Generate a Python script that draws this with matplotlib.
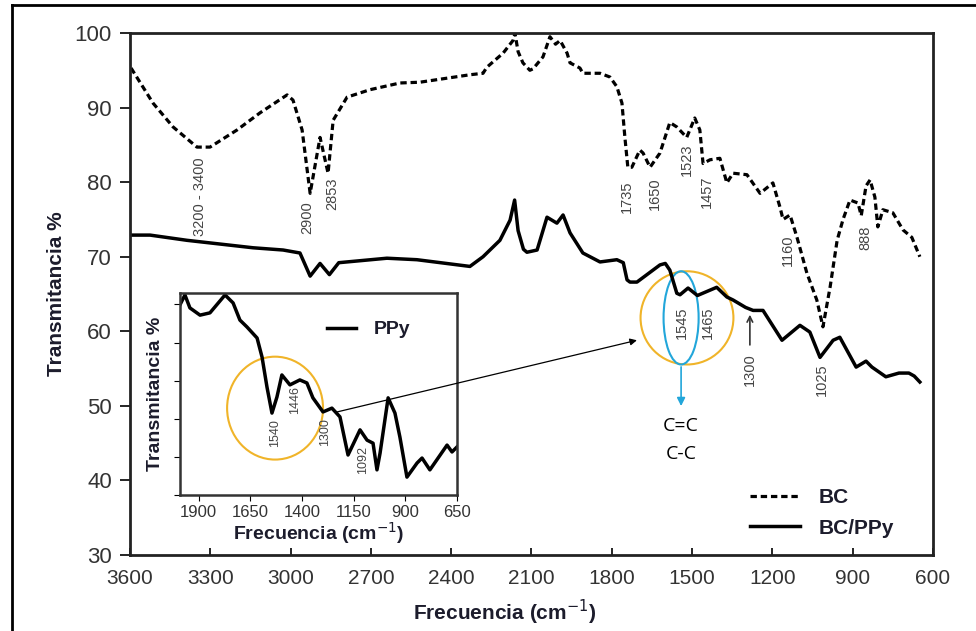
import matplotlib
matplotlib.use("Agg")
from matplotlib import pyplot as plt
from matplotlib.patches import Ellipse, ConnectionPatch
from matplotlib.lines import Line2D

plt.rcParams['font.family'] = ['Liberation Sans', 'DejaVu Sans']

# BC (dashed) spectrum
bc_x = [3596, 3514, 3439, 3350, 3301, 3200, 3114, 3013, 2991, 2957, 2927, 2890,
        2860, 2841, 2789, 2703, 2591, 2517, 2330, 2281, 2267, 2206, 2169, 2162,
        2150, 2132, 2106, 2094, 2057, 2031, 2010, 1993, 1967, 1956, 1919, 1908,
        1844, 1807, 1781, 1762, 1751, 1740, 1725, 1695, 1683, 1657, 1620, 1583,
        1557, 1520, 1490, 1471, 1459, 1433, 1396, 1370, 1347, 1295, 1246, 1198,
        1172, 1160, 1134, 1108, 1071, 1034, 1011, 984, 958, 936, 910, 880, 868,
        850, 835, 817, 806, 787, 750, 712, 679, 649]
bc_y = [95.3, 90.6, 87.4, 84.7, 84.7, 87.0, 89.3, 91.7, 91.0, 87.0, 78.5, 86.0,
        81.2, 88.3, 91.4, 92.4, 93.3, 93.4, 94.4, 94.6, 95.4, 97.3, 99.0, 100.0,
        97.5, 96.0, 95.0, 95.2, 96.8, 99.5, 98.5, 99.0, 97.3, 96.0, 95.3, 94.6,
        94.6, 94.1, 92.8, 90.6, 86.0, 82.0, 82.0, 84.3, 83.9, 82.0, 83.9, 88.0,
        87.4, 86.0, 88.6, 87.0, 82.5, 83.0, 83.2, 79.9, 81.2, 81.0, 78.5, 79.9,
        76.7, 75.0, 75.6, 72.6, 67.8, 64.2, 60.6, 66.0, 72.2, 75.0, 77.6, 77.2, 75.5,
        79.5, 80.3, 78.0, 74.0, 76.3, 75.9, 73.6, 72.6, 70.0]

# BC/PPy (solid) spectrum
bcppy_x = [3593, 3525, 3387, 3140, 3028, 2965, 2927, 2890, 2855, 2820, 2640, 2528,
           2330, 2281, 2218, 2180, 2163, 2150, 2130, 2117, 2079, 2042, 2005, 1982,
           1956, 1908, 1844, 1781, 1757, 1743, 1732, 1706, 1620, 1600, 1583, 1557,
           1545, 1515, 1480, 1408, 1370, 1347, 1300, 1272, 1235, 1164, 1097, 1060,
           1022, 973, 948, 887, 850, 828, 776, 727, 690, 670, 649]
bcppy_y = [72.9, 72.9, 72.2, 71.2, 70.9, 70.5, 67.4, 69.1, 67.6, 69.2, 69.8, 69.6,
           68.7, 70.0, 72.2, 74.9, 77.6, 73.5, 71.0, 70.6, 70.9, 75.3, 74.5, 75.6,
           73.2, 70.5, 69.3, 69.6, 69.2, 66.9, 66.6, 66.6, 68.9, 69.1, 68.2, 65.1,
           64.9, 65.8, 64.8, 65.9, 64.6, 64.2, 63.2, 62.8, 62.8, 58.8, 60.8, 59.9,
           56.5, 58.8, 59.2, 55.2, 56.0, 55.2, 53.9, 54.4, 54.4, 54.0, 53.2]

# PPy (inset) spectrum
ppy_x = [1990, 1966, 1942, 1893, 1845, 1772, 1733, 1700, 1666, 1617, 1593, 1569,
         1545, 1521, 1497, 1458, 1410, 1376, 1347, 1298, 1255, 1216, 1177, 1119,
         1085, 1056, 1037, 1022, 983, 950, 926, 892, 843, 819, 781, 698, 674, 650]
ppy_y = [49.9, 52.5, 49.1, 47.2, 47.8, 52.5, 50.4, 45.9, 44.1, 41.2, 36.2, 28.3,
         21.5, 25.7, 31.5, 28.9, 30.2, 29.4, 25.5, 21.8, 22.8, 20.5, 10.5, 17.1,
         14.4, 13.6, 6.6, 11.0, 25.5, 21.5, 15.2, 4.7, 8.4, 9.7, 6.6, 13.1, 11.3, 12.6]

main_labels = [("3200 - 3400", 3338, 78.1), ("2900", 2939, 75.3), ("2853", 2845, 78.5),
               ("1735", 1743, 78.0), ("1650", 1639, 78.5), ("1523", 1519, 83.0),
               ("1457", 1444, 78.7), ("1160", 1142, 70.9), ("888", 854, 72.5),
               ("1545", 1538, 61.2), ("1465", 1441, 61.2), ("1300", 1284, 54.8),
               ("1025", 1015, 53.5)]
inset_labels = [("1540", 1530, 16.3), ("1446", 1434, 24.9), ("1300", 1288, 16.5),
                ("1092", 1105, 9.2)]

dark = '#1c1c2c'
tick_col = '#333333'

fig = plt.figure(figsize=(9.76, 6.31), dpi=100)
ax = fig.add_axes([0.1332, 0.1204, 0.8227, 0.8273])

bc_line, = ax.plot(bc_x, bc_y, color='black', lw=2.3, linestyle=(0, (2.0, 1.2)))
bcppy_line, = ax.plot(bcppy_x, bcppy_y, color='black', lw=2.5)

ax.set_xlim(3600, 600)
ax.set_ylim(30, 100)
ax.set_xticks(range(3600, 599, -300))
ax.set_yticks(range(30, 101, 10))
ax.tick_params(axis='x', direction='in', length=5, width=1.2, labelsize=15,
               labelcolor=tick_col, pad=10)
ax.tick_params(axis='y', direction='out', length=7, width=1.2, labelsize=16,
               labelcolor=tick_col, pad=6)
for s in ax.spines.values():
    s.set_linewidth(2)
    s.set_color('#222222')
ax.set_xlabel('Frecuencia (cm$^{-1}$)', fontsize=15, fontweight='bold', color=dark)
ax.xaxis.set_label_coords(0.467, -0.082)
ax.set_ylabel('Transmitancia %', fontsize=15, fontweight='bold', color=dark, labelpad=6)

for txt, x, y in main_labels:
    ax.text(x, y, txt, rotation=90, ha='center', va='center', fontsize=10.5, color='#444444')

ax.annotate('', xy=(1284, 62.6), xytext=(1284, 57.8),
            arrowprops=dict(arrowstyle='->', color='#333333', lw=1.2))

# circles marking the C=C / C-C region
ax.add_patch(Ellipse((1519, 61.8), 347, 12.5, fill=False, ec='#F0B429', lw=1.5))
ax.add_patch(Ellipse((1541, 61.8), 131, 12.5, fill=False, ec='#22A6DA', lw=1.5))
ax.annotate('', xy=(1541, 49.6), xytext=(1541, 55.6),
            arrowprops=dict(arrowstyle='-|>', color='#22A6DA', lw=1.2, mutation_scale=12))
ax.text(1541, 47.3, 'C=C', ha='center', va='center', fontsize=14, color='black',
        family=['Open Sans', 'DejaVu Sans'])
ax.text(1541, 43.6, 'C-C', ha='center', va='center', fontsize=14, color='black',
        family=['Open Sans', 'DejaVu Sans'])

leg = ax.legend([bc_line, bcppy_line], ['BC', 'BC/PPy'], loc='upper left',
                bbox_to_anchor=(0.758, 0.243), bbox_transform=fig.transFigure,
                frameon=False, handlelength=2.4, handletextpad=0.9, borderpad=0,
                labelspacing=0.55, prop=dict(size=15, weight='bold'))
for t in leg.get_texts():
    t.set_color(dark)

# inset with PPy spectrum
axin = fig.add_axes([0.1844, 0.2155, 0.2838, 0.3201])
ppy_line, = axin.plot(ppy_x, ppy_y, color='black', lw=2.5)
axin.set_xlim(1990, 650)
axin.set_ylim(0, 53)
axin.set_xticks([1900, 1650, 1400, 1150, 900, 650])
axin.set_yticks([0, 10, 20, 30, 40, 50])
axin.set_yticklabels([])
axin.tick_params(axis='x', direction='out', length=4, labelsize=12, labelcolor=tick_col, pad=3)
axin.tick_params(axis='y', direction='out', length=4)
for s in axin.spines.values():
    s.set_linewidth(1.8)
    s.set_color('#333333')
axin.set_xlabel('Frecuencia (cm$^{-1}$)', fontsize=14, fontweight='bold', color=dark, labelpad=0)
axin.set_ylabel('Transmitancia %', fontsize=14, fontweight='bold', color=dark, labelpad=4)
for txt, x, y in inset_labels:
    axin.text(x, y, txt, rotation=90, ha='center', va='center', fontsize=9, color='#444444')
axin.add_patch(Ellipse((1530, 22.8), 464, 27.0, fill=False, ec='#F0B429', lw=1.5))
leg2 = axin.legend([ppy_line], ['PPy'], loc='upper left', bbox_to_anchor=(0.325, 0.507),
                   bbox_transform=fig.transFigure, frameon=False, handlelength=1.5,
                   handletextpad=0.9, borderpad=0, prop=dict(size=14, weight='bold'))
for t in leg2.get_texts():
    t.set_color(dark)

con = ConnectionPatch(xyA=(1230, 21.8), coordsA=axin.transData,
                      xyB=(1706, 58.8), coordsB=ax.transData,
                      arrowstyle='-|>', color='black', lw=0.9, mutation_scale=10)
fig.add_artist(con)

# outer frame of the picture
fig.add_artist(Line2D([12 / 976, 12 / 976], [0, 1 - 4.5 / 631], transform=fig.transFigure,
                      color='black', lw=2))
fig.add_artist(Line2D([12 / 976, 1], [1 - 4.5 / 631, 1 - 4.5 / 631], transform=fig.transFigure,
                      color='black', lw=2))

fig.savefig('out.png', dpi=100)
